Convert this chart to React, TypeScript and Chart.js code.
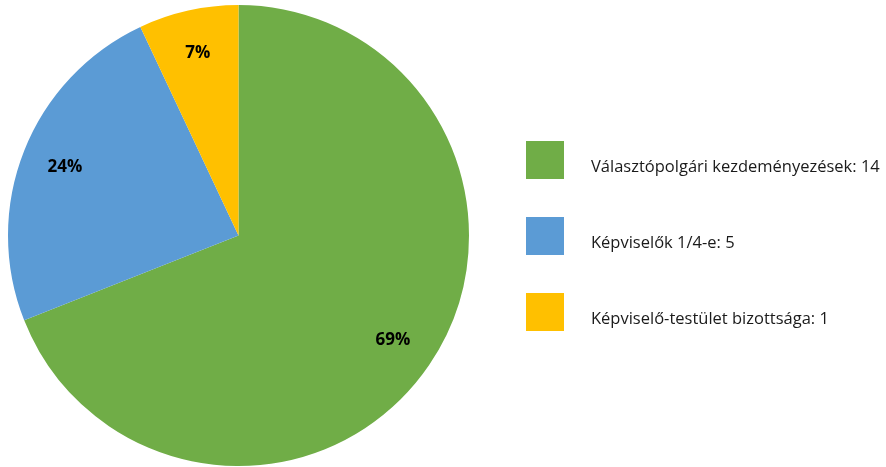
import React, { useEffect, useRef } from "react";
import { Chart, registerables } from "chart.js";

Chart.register(...registerables);

const categories = [
  "Választópolgári kezdeményezések: 14",
  "Képviselők 1/4-e: 5",
  "Képviselő-testület bizottsága: 1",
];
const shares = [69, 24, 7];
const colors = ["#70AD47", "#5B9BD5", "#FFC000"];

const FONT = "'Open Sans', 'DejaVu Sans', sans-serif";

const labelPlugin = {
  id: "sliceLabels",
  afterDatasetsDraw(chart: any) {
    const ctx = chart.ctx;
    const meta = chart.getDatasetMeta(0);
    ctx.save();
    ctx.font = `bold 17px ${FONT}`;
    ctx.fillStyle = "#000000";
    ctx.textAlign = "center";
    ctx.textBaseline = "middle";
    meta.data.forEach((arc: any, i: number) => {
      const { x, y, startAngle, endAngle, outerRadius } = arc.getProps(
        ["x", "y", "startAngle", "endAngle", "outerRadius"],
        true
      );
      const mid = (startAngle + endAngle) / 2;
      const r = outerRadius * 0.81;
      ctx.fillText(`${shares[i]}%`, x + Math.cos(mid) * r, y + Math.sin(mid) * r);
    });
    ctx.restore();
  },
};

const legendPlugin = {
  id: "sideLegend",
  afterDraw(chart: any) {
    const ctx = chart.ctx;
    const labels = chart.data.labels as string[];
    const bg = chart.data.datasets[0].backgroundColor as string[];
    const left = 526;
    const box = 38;
    const step = 76;
    const top0 = 141;
    ctx.save();
    ctx.font = `16.5px ${FONT}`;
    ctx.textAlign = "left";
    ctx.textBaseline = "alphabetic";
    labels.forEach((lab, i) => {
      const top = top0 + i * step;
      ctx.fillStyle = bg[i];
      ctx.fillRect(left, top, box, box);
      ctx.fillStyle = "#1a1a1a";
      ctx.fillText(lab, 591, top + 30.5);
    });
    ctx.restore();
  },
};

export default function App() {
  const ref = useRef<HTMLCanvasElement>(null);
  useEffect(() => {
    document.body.style.margin = "0";
    const chart = new Chart(ref.current!, {
      type: "pie",
      data: {
        labels: categories,
        datasets: [
          {
            data: shares,
            backgroundColor: colors,
            borderWidth: 0,
          },
        ],
      },
      options: {
        animation: false,
        responsive: false,
        layout: { padding: { top: 5, bottom: 1, left: 7, right: 416 } },
        plugins: {
          legend: { display: false },
          tooltip: { enabled: false },
        },
      },
      plugins: [labelPlugin, legendPlugin],
    });
    return () => chart.destroy();
  }, []);
  return (
    <div style={{ width: 886, height: 467 }}>
      <canvas ref={ref} width={886} height={467} />
    </div>
  );
}
